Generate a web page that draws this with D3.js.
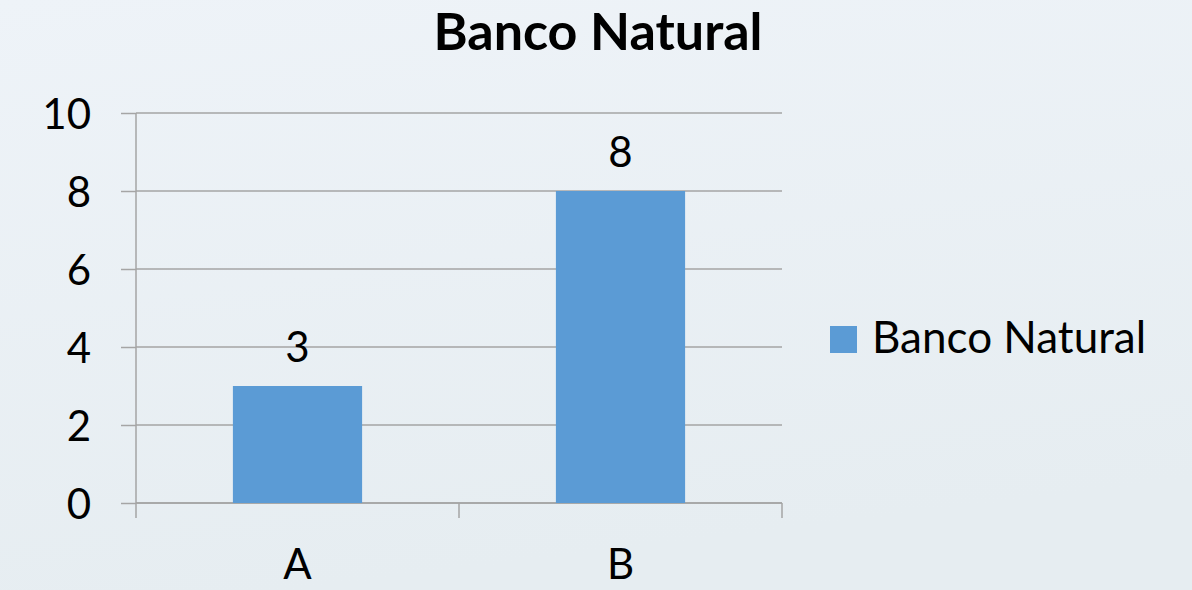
<!DOCTYPE html>
<html>
<head>
<meta charset="utf-8">
<script src="https://cdn.jsdelivr.net/npm/d3@7"></script>
<style>
  html, body { margin: 0; padding: 0; }
  body { width: 1192px; height: 590px; overflow: hidden; }
  svg { display: block; font-family: Lato, "Liberation Sans", sans-serif; }
</style>
</head>
<body>
<svg id="chart" width="1192" height="590"></svg>
<script>
// Chart data
const categories = ["A", "B"];
const values = [3, 8];
const seriesName = "Banco Natural";
const chartTitle = "Banco Natural";
const yTicks = [0, 2, 4, 6, 8, 10];

const W = 1192, H = 590;
const margin = { left: 136, right: W - 782, top: 113, bottom: H - 503 };
const innerW = W - margin.left - margin.right;
const innerH = H - margin.top - margin.bottom;

const svg = d3.select("#chart");

// Soft background gradient
const defs = svg.append("defs");
const grad = defs.append("linearGradient")
  .attr("id", "bg").attr("x1", "0").attr("y1", "0").attr("x2", "0.25").attr("y2", "1");
grad.append("stop").attr("offset", "0").attr("stop-color", "#eef3f8");
grad.append("stop").attr("offset", "1").attr("stop-color", "#e6edf1");
svg.append("rect").attr("width", W).attr("height", H).attr("fill", "url(#bg)");

const g = svg.append("g").attr("transform", `translate(${margin.left},${margin.top})`);

const x = d3.scaleBand().domain(categories).range([0, innerW])
  .paddingInner(0.6).paddingOuter(0.3);
const y = d3.scaleLinear().domain([0, 10]).range([innerH, 0]);

const gridColor = "#a5a5a5";

// Horizontal gridlines
g.append("g").selectAll("line").data(yTicks).join("line")
  .attr("x1", 0).attr("x2", innerW)
  .attr("y1", d => y(d)).attr("y2", d => y(d))
  .attr("stroke", gridColor).attr("stroke-width", 1.5);

// Y axis
const yAxis = g.append("g")
  .call(d3.axisLeft(y).tickValues(yTicks).tickSize(15).tickPadding(30).tickFormat(d3.format("d")));
yAxis.select(".domain").attr("stroke", gridColor).attr("stroke-width", 1.5)
  .attr("d", `M0,${innerH}V0`);
yAxis.selectAll(".tick line").attr("stroke", gridColor).attr("stroke-width", 1.5);
yAxis.selectAll(".tick text")
  .attr("font-size", 42).attr("fill", "#000").attr("dy", "0.36em")
  .style("font-family", "Lato, sans-serif");

// X axis: baseline, category boundary ticks, category labels
const xAxis = g.append("g").attr("transform", `translate(0,${innerH})`);
xAxis.append("line").attr("x1", 0).attr("x2", innerW)
  .attr("stroke", gridColor).attr("stroke-width", 1.5);
const step = x.step();
const bounds = d3.range(categories.length + 1).map(i => x(categories[0]) - x.paddingOuter() * step + i * step);
xAxis.selectAll(".bt").data(bounds).join("line").attr("class", "bt")
  .attr("x1", d => d).attr("x2", d => d).attr("y1", 0).attr("y2", 15)
  .attr("stroke", gridColor).attr("stroke-width", 1.5);
xAxis.selectAll(".cl").data(categories).join("text").attr("class", "cl")
  .attr("x", d => x(d) + x.bandwidth() / 2).attr("y", 76)
  .attr("text-anchor", "middle").attr("font-size", 42).attr("fill", "#000")
  .text(d => d);

// Bars
const data = categories.map((c, i) => ({ c, v: values[i] }));
g.selectAll(".bar").data(data).join("rect").attr("class", "bar")
  .attr("x", d => x(d.c)).attr("width", x.bandwidth())
  .attr("y", d => y(d.v)).attr("height", d => innerH - y(d.v))
  .attr("fill", "#5b9bd5");

// Value labels
g.selectAll(".vl").data(data).join("text").attr("class", "vl")
  .attr("x", d => x(d.c) + x.bandwidth() / 2).attr("y", d => y(d.v) - 24)
  .attr("text-anchor", "middle").attr("font-size", 42).attr("fill", "#000")
  .text(d => d.v);

// Title
svg.append("text").attr("x", 598).attr("y", 50)
  .attr("text-anchor", "middle").attr("font-size", 52).attr("font-weight", "bold")
  .attr("fill", "#000").text(chartTitle);

// Legend
const lg = svg.append("g").attr("transform", "translate(830,326)");
lg.append("rect").attr("width", 27).attr("height", 27).attr("fill", "#5b9bd5");
lg.append("text").attr("x", 42).attr("y", 27).attr("font-size", 44).attr("fill", "#000")
  .text(seriesName);
</script>
</body>
</html>
